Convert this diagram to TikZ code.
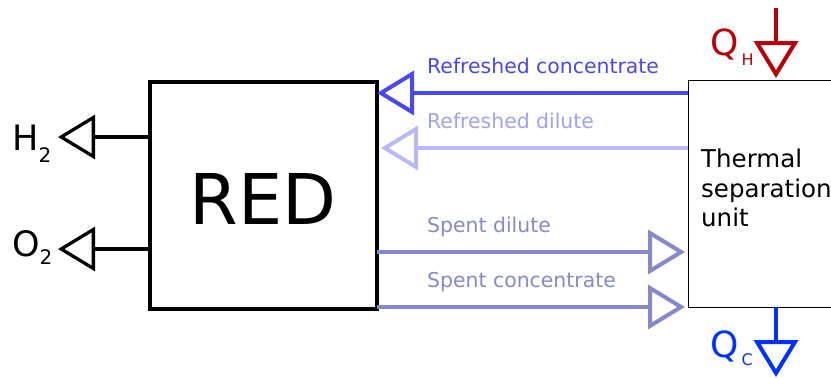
\documentclass[tikz,border=0pt]{standalone}
\usepackage{fontspec}
\setmainfont{DejaVu Sans}
\usetikzlibrary{arrows.meta}
\definecolor{rc}{RGB}{72,72,240}
\definecolor{rd}{RGB}{185,185,250}
\definecolor{rdt}{RGB}{160,160,245}
\definecolor{sp}{RGB}{135,135,205}
\definecolor{qh}{RGB}{185,0,10}
\definecolor{qc}{RGB}{0,50,255}
\tikzset{
  tipopen/.style={-{Triangle[open,length=37pt,width=44pt]}},
  flow/.style={line width=4pt, tipopen},
  lbl/.style={anchor=base west, inner sep=0, font=\fontsize{20.4}{24}\selectfont},
  box/.style={draw, inner sep=0, outer sep=0, anchor=north west},
}
\begin{document}
\begin{tikzpicture}[x=1pt,y=-1pt]
\useasboundingbox (0,0) rectangle (831,378);
% boxes
\node[box, line width=3.5pt, minimum width=227pt, minimum height=227pt] (red) at (150,82) {};
\node[font=\fontsize{70}{70}\selectfont, anchor=base, inner sep=0] (redtxt) at (263,224) {RED};
\node[box, line width=1pt, minimum width=170pt, minimum height=227pt] (tsu) at (688,80) {};
\node[anchor=north west, inner sep=0, align=left, font=\fontsize{24.5}{29.5}\selectfont] (tsutxt) at (701,149) {Thermal\\separation\\unit};
% levels
\coordinate (yRC) at (0,93);
\coordinate (yRD) at (0,148);
\coordinate (ySD) at (0,252);
\coordinate (ySC) at (0,307);
\coordinate (yH) at (0,137);
\coordinate (yO) at (0,249);
% flows
\draw[flow, rc] (tsu.west |- yRC) -- (red.east |- yRC);
\draw[flow, rd, shorten >=4pt] (tsu.west |- yRD) -- (red.east |- yRD);
\draw[flow, sp, shorten >=3pt] (red.east |- ySD) -- (tsu.west |- ySD);
\draw[flow, sp, shorten >=3pt] (red.east |- ySC) -- (tsu.west |- ySC);
\node[lbl, rc] (lrc) at (427,73) {Refreshed concentrate};
\node[lbl, rdt] (lrd) at (427,128) {Refreshed dilute};
\node[lbl, sp] (lsd) at (427,232) {Spent dilute};
\node[lbl, sp] (lsc) at (427,287) {Spent concentrate};
% products
\coordinate (h2tip) at (58,137);
\coordinate (o2tip) at (58,249);
\draw[line width=3.3pt, tipopen] (red.west |- yH) -- (h2tip);
\draw[line width=3.3pt, tipopen] (red.west |- yO) -- (o2tip);
\node[anchor=base west, inner sep=0, font=\fontsize{35}{35}\selectfont] (h2) at (12,150) {H\raisebox{-12pt}{\fontsize{20}{20}\selectfont 2}};
\node[anchor=base west, inner sep=0, font=\fontsize{35}{35}\selectfont] (o2) at (12,256) {O\raisebox{-8pt}{\fontsize{20}{20}\selectfont 2}};
% heat
\coordinate (qhs) at (776,8);
\coordinate (qce) at (776,377);
\draw[qh, line width=4pt, tipopen, shorten >=2pt] (qhs) -- (tsu.north -| qhs);
\draw[qc, line width=4pt, tipopen] (tsu.south -| qce) -- (qce);
\node[qh, anchor=base west, inner sep=0, font=\fontsize{36}{36}\selectfont] (qhl) at (710,55) {Q\hspace{3pt}\raisebox{-10pt}{\fontsize{16}{16}\selectfont H}};
\node[qc, anchor=base west, inner sep=0, font=\fontsize{36}{36}\selectfont] (qcl) at (710,357) {Q\hspace{3pt}\raisebox{-8pt}{\fontsize{16}{16}\selectfont C}};
\end{tikzpicture}
\end{document}
